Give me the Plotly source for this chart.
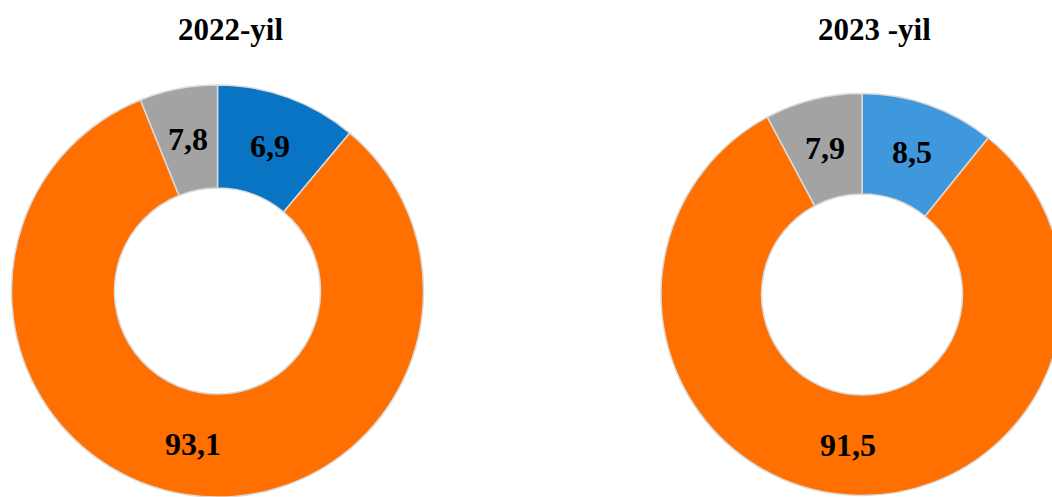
import math
import plotly.graph_objects as go

# Data
categories = ["Blue", "Orange", "Gray"]
labels_2022 = ["6,9", "93,1", "7,8"]          # printed values
shares_2022 = [11.1, 82.8, 6.1]
labels_2023 = ["8,5", "91,5", "7,9"]
shares_2023 = [10.8, 81.4, 7.8]
titles = ["2022-yil", "2023 -yil"]

colors_2022 = ["#0A74C4", "#FF7000", "#A3A3A3"]
colors_2023 = ["#4098DC", "#FF7000", "#A3A3A3"]

W, H = 1064, 497
FONT = "Liberation Serif"
HOLE = 0.5


def dom_x(cx, r):
    return [(cx - r) / W, (cx + r) / W]


def dom_y(cy, r):
    return [(H - (cy + r)) / H, (H - (cy - r)) / H]


fig = go.Figure()
for shares, labs, cols, cx, cy, r in [
    (shares_2022, labels_2022, colors_2022, 217.5, 291, 206),
    (shares_2023, labels_2023, colors_2023, 862, 294.5, 201),
]:
    fig.add_trace(go.Pie(
        labels=categories,
        values=shares,
        textinfo="none",
        hole=HOLE,
        sort=False,
        direction="clockwise",
        rotation=0,
        marker=dict(colors=cols, line=dict(color="#DADADA", width=1.5)),
        domain=dict(x=dom_x(cx, r), y=dom_y(cy, r)),
        showlegend=False,
        hoverinfo="skip",
    ))
    # value labels at the middle of each ring segment
    total = sum(shares)
    cum = 0.0
    rm = r * (1 + HOLE) / 2
    for v, lab in zip(shares, labs):
        mid = (cum + v / 2) / total * 2 * math.pi
        cum += v
        px = cx + rm * math.sin(mid)
        py = cy - rm * math.cos(mid)
        fig.add_annotation(
            text=f"<b>{lab}</b>", x=px / W, y=1 - py / H, xref="paper", yref="paper",
            xanchor="center", yanchor="middle", showarrow=False,
            font=dict(family=FONT, size=32, color="black"),
        )

for t, x in zip(titles, [230, 874]):
    fig.add_annotation(
        text=f"<b>{t}</b>", x=x / W, y=1 - 30 / H, xref="paper", yref="paper",
        xanchor="center", yanchor="middle", showarrow=False,
        font=dict(family=FONT, size=31, color="black"),
    )

fig.update_layout(
    width=W, height=H,
    margin=dict(l=0, r=0, t=0, b=0),
    paper_bgcolor="white", plot_bgcolor="white",
)

fig.write_html(
    "out.html",
    config={"displayModeBar": False},
    post_script="document.body.style.margin='0';document.body.style.overflow='hidden';",
)
